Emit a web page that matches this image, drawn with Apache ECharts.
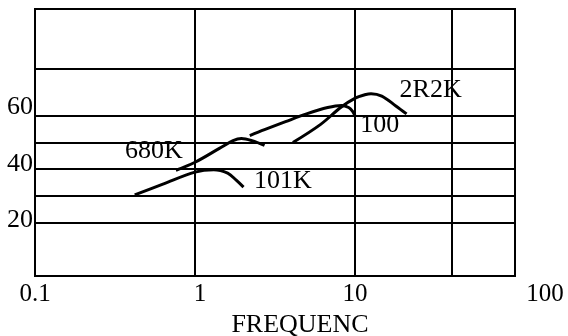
<!DOCTYPE html>
<html>
<head>
<meta charset="utf-8">
<script src="https://cdn.jsdelivr.net/npm/echarts@6/dist/echarts.min.js"></script>
<style>
  html, body { margin: 0; padding: 0; background: #fff; }
  #chart { width: 568px; height: 336px; }
</style>
</head>
<body>
<div id="chart"></div>
<script>
// Frequency (log scale) and level for each response curve
const freq101K = [0.42, 0.63, 1.0, 1.31, 1.6, 1.81, 2.01];
const level101K = [30.4, 34.4, 38.9, 39.8, 38.5, 35.9, 33.3];

const freq680K = [0.76, 1.0, 1.42, 1.73, 1.95, 2.27, 2.72];
const level680K = [39.6, 42.6, 47.8, 50.7, 51.5, 50.7, 48.9];

const freq100 = [2.2, 2.72, 3.68, 4.98, 6.75, 8.21, 9.13, 9.7, 10.0];
const level100 = [52.6, 54.8, 57.8, 60.7, 63.1, 63.9, 63.1, 61.5, 60.0];

const freq2R2K = [4.09, 6.07, 8.21, 10.1, 11.4, 12.6, 14.7, 18.0, 21.0];
const level2R2K = [50.0, 56.7, 63.3, 66.7, 67.8, 68.3, 67.4, 63.7, 60.7];

// Curve names and where their captions sit (frequency, level)
const curveNames = ['101K', '680K', '100', '2R2K'];
const captionFreq = [3.54, 0.553, 14.3, 29.7];
const captionLevel = [35.6, 46.6, 56.6, 69.7];

// Axis ticks and reference lines
const xTickLabels = ['0.1', '1', '10', '100'];
const yTickLabels = [20, 40, 60];
const levelGridLines = [20, 30, 40, 50, 60, 77.5];
const freqGridLines = [40];

const FONT = "'Liberation Serif', 'Times New Roman', serif";
const INK = '#000';

const pairs = (xs, ys) => xs.map((x, i) => [x, ys[i]]);
const curveData = [
  pairs(freq101K, level101K),
  pairs(freq680K, level680K),
  pairs(freq100, level100),
  pairs(freq2R2K, level2R2K)
];

const gridLineStyle = { color: INK, width: 2, type: 'solid' };

const series = curveData.map((data, i) => ({
  name: curveNames[i],
  type: 'line',
  data: data,
  smooth: 0.35,
  showSymbol: false,
  symbol: 'none',
  lineStyle: { color: INK, width: 3 },
  z: 5,
  markPoint: {
    symbol: 'circle',
    symbolSize: 0,
    silent: true,
    label: {
      show: true,
      position: 'inside',
      formatter: curveNames[i],
      color: INK,
      fontFamily: FONT,
      fontSize: 26
    },
    data: [{ coord: [captionFreq[i], captionLevel[i]] }]
  }
}));

// Reference grid lines drawn on the first curve's layer
series[0].markLine = {
  silent: true,
  symbol: 'none',
  label: { show: false },
  lineStyle: gridLineStyle,
  animation: false,
  data: levelGridLines.map(v => ({ yAxis: v }))
    .concat(freqGridLines.map(v => ({ xAxis: v })))
};

const yRich = {};
const yLift = { 20: 4, 40: 10, 60: 18 };
yTickLabels.forEach(v => {
  yRich['y' + v] = { fontFamily: FONT, fontSize: 26, color: INK, padding: [0, 0, yLift[v], 0] };
});

// Horizontal nudge (px of left padding) for individual frequency labels
const xLabelNudge = [0, 10, 0, 60];
const xRich = {};
xTickLabels.forEach((t, i) => {
  xRich['x' + i] = { fontFamily: FONT, fontSize: 25, color: INK, padding: [0, 0, 0, xLabelNudge[i]] };
});

const option = {
  animation: false,
  backgroundColor: '#fff',
  grid: {
    left: 35, right: 53, top: 9, bottom: 60,
    outerBoundsMode: 'none',
    containLabel: false,
    show: true, borderColor: INK, borderWidth: 2
  },
  xAxis: {
    type: 'log',
    logBase: 10,
    min: 0.1,
    max: 100,
    name: 'FREQUENC',
    nameLocation: 'middle',
    nameGap: 33,
    nameTextStyle: { fontFamily: FONT, fontSize: 26, color: INK, padding: [0, 0, 0, 50] },
    axisLine: { show: true, lineStyle: { color: INK, width: 2 } },
    axisTick: { show: false },
    minorTick: { show: false },
    splitLine: { show: true, lineStyle: gridLineStyle },
    axisLabel: {
      margin: 6,
      fontFamily: FONT,
      fontSize: 25,
      color: INK,
      showMinLabel: true,
      showMaxLabel: true,
      formatter: function (v) {
        const idx = Math.round(Math.log10(v)) + 1;
        const text = xTickLabels[idx];
        return text === undefined ? '' : '{x' + idx + '|' + text + '}';
      },
      rich: xRich
    }
  },
  yAxis: {
    type: 'value',
    min: 0,
    max: 100,
    interval: 20,
    axisLine: { show: true, lineStyle: { color: INK, width: 2 } },
    axisTick: { show: false },
    splitLine: { show: false },
    axisLabel: {
      margin: 2,
      fontFamily: FONT,
      fontSize: 26,
      color: INK,
      formatter: function (v) {
        return yTickLabels.indexOf(v) >= 0 ? '{y' + v + '|' + v + '}' : '';
      },
      rich: yRich
    }
  },
  series: series
};

const chart = echarts.init(document.getElementById('chart'), null, { renderer: 'canvas' });
chart.setOption(option);
</script>
</body>
</html>
